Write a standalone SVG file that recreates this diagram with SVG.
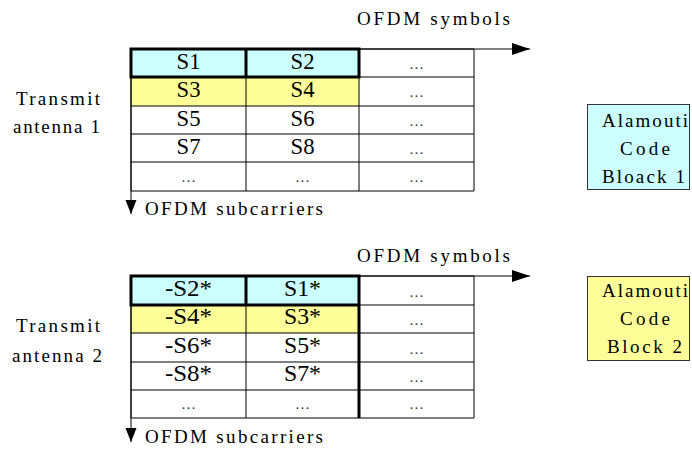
<svg xmlns="http://www.w3.org/2000/svg" width="692" height="450" viewBox="0 0 692 450" font-family="'Liberation Serif', 'Times New Roman', Times, serif">
<style>
  text { fill: #000; }
  .lbl { font-size: 19px; }
  .cell { font-size: 23px; text-anchor: middle; }
  .dots { font-size: 15px; text-anchor: middle; fill: #333; }
  .grid { stroke: #000; stroke-width: 1; fill: none; }
  .thick { stroke: #000; stroke-width: 3; fill: none; }
  .axis { stroke: #000; stroke-width: 1; fill: none; }
  .box { stroke: #333; stroke-width: 1; }
</style>
<defs>
  <marker id="arrH" markerUnits="userSpaceOnUse" markerWidth="20" markerHeight="14" refX="18" refY="6" orient="auto">
    <path d="M0,0 L18,6 L0,12 Z" fill="#000"/>
  </marker>
  <marker id="arrV" markerUnits="userSpaceOnUse" markerWidth="16" markerHeight="14" refX="14" refY="5.5" orient="auto">
    <path d="M0,0 L14,5.5 L0,11 Z" fill="#000"/>
  </marker>
</defs>

<rect width="692" height="450" fill="#fff"/>

<!-- Antenna 1 grid -->
<g id="grid1">
  <rect x="131" y="49" width="228" height="28" fill="#ccffff"/>
  <rect x="131" y="77" width="228" height="29" fill="#ffff99"/>
  <path class="grid" d="M131,49 H474 V191 H131 Z M131,77 H474 M131,106 H474 M131,134 H474 M131,162 H474 M246,49 V191 M359,49 V191"/>
  <path class="thick" d="M131,49 H359 V77 H131 Z M246,49 V77"/>
  <text class="cell" x="188.5" y="69" textLength="24" lengthAdjust="spacingAndGlyphs">S1</text>
  <text class="cell" x="302.5" y="69" textLength="24" lengthAdjust="spacingAndGlyphs">S2</text>
  <text class="dots" x="416.5" y="69">…</text>
  <text class="cell" x="188.5" y="97" textLength="24" lengthAdjust="spacingAndGlyphs">S3</text>
  <text class="cell" x="302.5" y="97" textLength="24" lengthAdjust="spacingAndGlyphs">S4</text>
  <text class="dots" x="416.5" y="97">…</text>
  <text class="cell" x="188.5" y="126" textLength="24" lengthAdjust="spacingAndGlyphs">S5</text>
  <text class="cell" x="302.5" y="126" textLength="24" lengthAdjust="spacingAndGlyphs">S6</text>
  <text class="dots" x="416.5" y="126">…</text>
  <text class="cell" x="188.5" y="154" textLength="24" lengthAdjust="spacingAndGlyphs">S7</text>
  <text class="cell" x="302.5" y="154" textLength="24" lengthAdjust="spacingAndGlyphs">S8</text>
  <text class="dots" x="416.5" y="154">…</text>
  <text class="dots" x="188.5" y="182">…</text>
  <text class="dots" x="302.5" y="182">…</text>
  <text class="dots" x="416.5" y="182">…</text>
</g>

<!-- Antenna 2 grid -->
<g id="grid2">
  <rect x="131" y="276" width="228" height="29" fill="#ccffff"/>
  <rect x="131" y="305" width="228" height="28" fill="#ffff99"/>
  <path class="grid" d="M131,276 H474 V418 H131 Z M131,305 H474 M131,333 H474 M131,362 H474 M131,390 H474 M246,276 V418 M359,276 V418"/>
  <path class="thick" d="M131,276 H359 V305 H131 Z M246,276 V305 M359,276 V418"/>
  <text class="cell" x="188.5" y="296" textLength="47" lengthAdjust="spacingAndGlyphs">-S2*</text>
  <text class="cell" x="302.5" y="296" textLength="37" lengthAdjust="spacingAndGlyphs">S1*</text>
  <text class="dots" x="416.5" y="297">…</text>
  <text class="cell" x="188.5" y="324" textLength="47" lengthAdjust="spacingAndGlyphs">-S4*</text>
  <text class="cell" x="302.5" y="324" textLength="37" lengthAdjust="spacingAndGlyphs">S3*</text>
  <text class="dots" x="416.5" y="325">…</text>
  <text class="cell" x="188.5" y="353" textLength="47" lengthAdjust="spacingAndGlyphs">-S6*</text>
  <text class="cell" x="302.5" y="353" textLength="37" lengthAdjust="spacingAndGlyphs">S5*</text>
  <text class="dots" x="416.5" y="354">…</text>
  <text class="cell" x="188.5" y="381" textLength="47" lengthAdjust="spacingAndGlyphs">-S8*</text>
  <text class="cell" x="302.5" y="381" textLength="37" lengthAdjust="spacingAndGlyphs">S7*</text>
  <text class="dots" x="416.5" y="382">…</text>
  <text class="dots" x="188.5" y="409">…</text>
  <text class="dots" x="302.5" y="409">…</text>
  <text class="dots" x="416.5" y="409">…</text>
</g>

<!-- Axes -->
<g id="connectors">
  <line class="axis" x1="131" y1="49" x2="530" y2="49" marker-end="url(#arrH)"/>
  <line class="axis" x1="131" y1="49" x2="131" y2="214" marker-end="url(#arrV)"/>
  <line class="axis" x1="131" y1="276" x2="530" y2="276" marker-end="url(#arrH)"/>
  <line class="axis" x1="131" y1="276" x2="131" y2="442" marker-end="url(#arrV)"/>
</g>

<g id="axis-labels">
  <text class="lbl" x="357" y="25" textLength="153" lengthAdjust="spacing">OFDM symbols</text>
  <text class="lbl" x="145" y="215" textLength="178" lengthAdjust="spacing">OFDM subcarriers</text>
  <text class="lbl" x="357" y="262" textLength="153" lengthAdjust="spacing">OFDM symbols</text>
  <text class="lbl" x="145" y="443" textLength="178" lengthAdjust="spacing">OFDM subcarriers</text>
</g>

<g id="antenna1-label">
  <text class="lbl" x="16" y="105" textLength="84" lengthAdjust="spacing">Transmit</text>
  <text class="lbl" x="13" y="133" textLength="87" lengthAdjust="spacing">antenna 1</text>
</g>
<g id="antenna2-label">
  <text class="lbl" x="16" y="332" textLength="84" lengthAdjust="spacing">Transmit</text>
  <text class="lbl" x="12" y="362" textLength="90" lengthAdjust="spacing">antenna 2</text>
</g>

<g id="block1">
  <rect class="box" x="587.5" y="104.5" width="102" height="85" fill="#ccffff"/>
  <text class="lbl" x="602" y="127" textLength="86" lengthAdjust="spacing">Alamouti</text>
  <text class="lbl" x="620" y="155" textLength="50" lengthAdjust="spacing">Code</text>
  <text class="lbl" x="602" y="183" textLength="83" lengthAdjust="spacing">Bloack 1</text>
</g>
<g id="block2">
  <rect class="box" x="587.5" y="276.5" width="102" height="84" fill="#ffff99"/>
  <text class="lbl" x="602" y="297" textLength="86" lengthAdjust="spacing">Alamouti</text>
  <text class="lbl" x="620" y="325" textLength="50" lengthAdjust="spacing">Code</text>
  <text class="lbl" x="607" y="353" textLength="75" lengthAdjust="spacing">Block 2</text>
</g>
</svg>
